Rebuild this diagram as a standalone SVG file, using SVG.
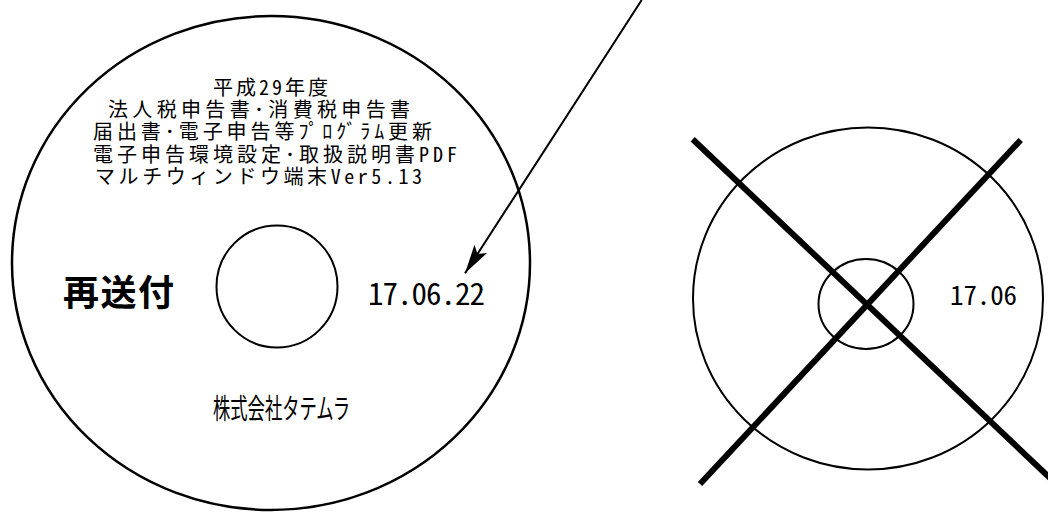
<svg xmlns="http://www.w3.org/2000/svg" width="1048" height="512" viewBox="0 0 1048 512">
<style>
  .disc { fill: none; stroke: #000; }
  .t { font-family: "Noto Sans CJK JP", sans-serif; fill: #000; font-feature-settings: "hwid"; }
  .lbl { font-size: 20px; }
  .cross { stroke: #000; stroke-width: 6; }
</style>
<defs>
  <marker id="ah" markerUnits="userSpaceOnUse" viewBox="-30 -9 32 18" refX="0" refY="0" markerWidth="32" markerHeight="18" orient="auto">
    <path d="M0,0 L-29,-7.5 L-23,0 L-29,7.5 Z" fill="#000"/>
  </marker>
</defs>
<rect width="1048" height="512" fill="#fff"/>
<g id="disc-left">
  <ellipse class="disc" cx="271" cy="263" rx="259" ry="247" stroke-width="2.5"/>
  <ellipse class="disc" cx="277" cy="286.5" rx="60.5" ry="61" stroke-width="2"/>
  <text class="t lbl" x="213" y="94.5" textLength="115" lengthAdjust="spacing">平成29年度</text>
  <text class="t lbl" x="108" y="116.5" textLength="302" lengthAdjust="spacing">法人税申告書･消費税申告書</text>
  <text class="t lbl" x="93" y="139" textLength="339" lengthAdjust="spacing">届出書･電子申告等ﾌﾟﾛｸﾞﾗﾑ更新</text>
  <text class="t lbl" x="93" y="161.5" textLength="364" lengthAdjust="spacing">電子申告環境設定･取扱説明書PDF</text>
  <text class="t lbl" x="95" y="184" textLength="327" lengthAdjust="spacing">マルチウィンドウ端末Ver5.13</text>
  <text class="t" x="63" y="305.5" font-size="36" font-weight="bold" textLength="111" lengthAdjust="spacing">再送付</text>
  <text class="t" x="368" y="305" font-size="31" textLength="117" lengthAdjust="spacing">17.06.22</text>
  <text class="t" x="213" y="419" font-size="28" textLength="137" lengthAdjust="spacingAndGlyphs">株式会社タテムラ</text>
</g>
<g id="disc-right">
  <ellipse class="disc" cx="868" cy="298.5" rx="175" ry="171" stroke-width="2"/>
  <ellipse class="disc" cx="866" cy="304" rx="47.5" ry="45" stroke-width="2"/>
  <text class="t" x="950" y="305" font-size="27" textLength="67" lengthAdjust="spacing">17.06</text>
  <line class="cross" x1="692.7" y1="139.3" x2="1050" y2="478"/>
  <line class="cross" x1="1020.7" y1="140" x2="700" y2="484"/>
</g>
<g id="connectors">
  <line x1="641.7" y1="0" x2="465" y2="273.3" stroke="#000" stroke-width="2" marker-end="url(#ah)"/>
</g>
</svg>
